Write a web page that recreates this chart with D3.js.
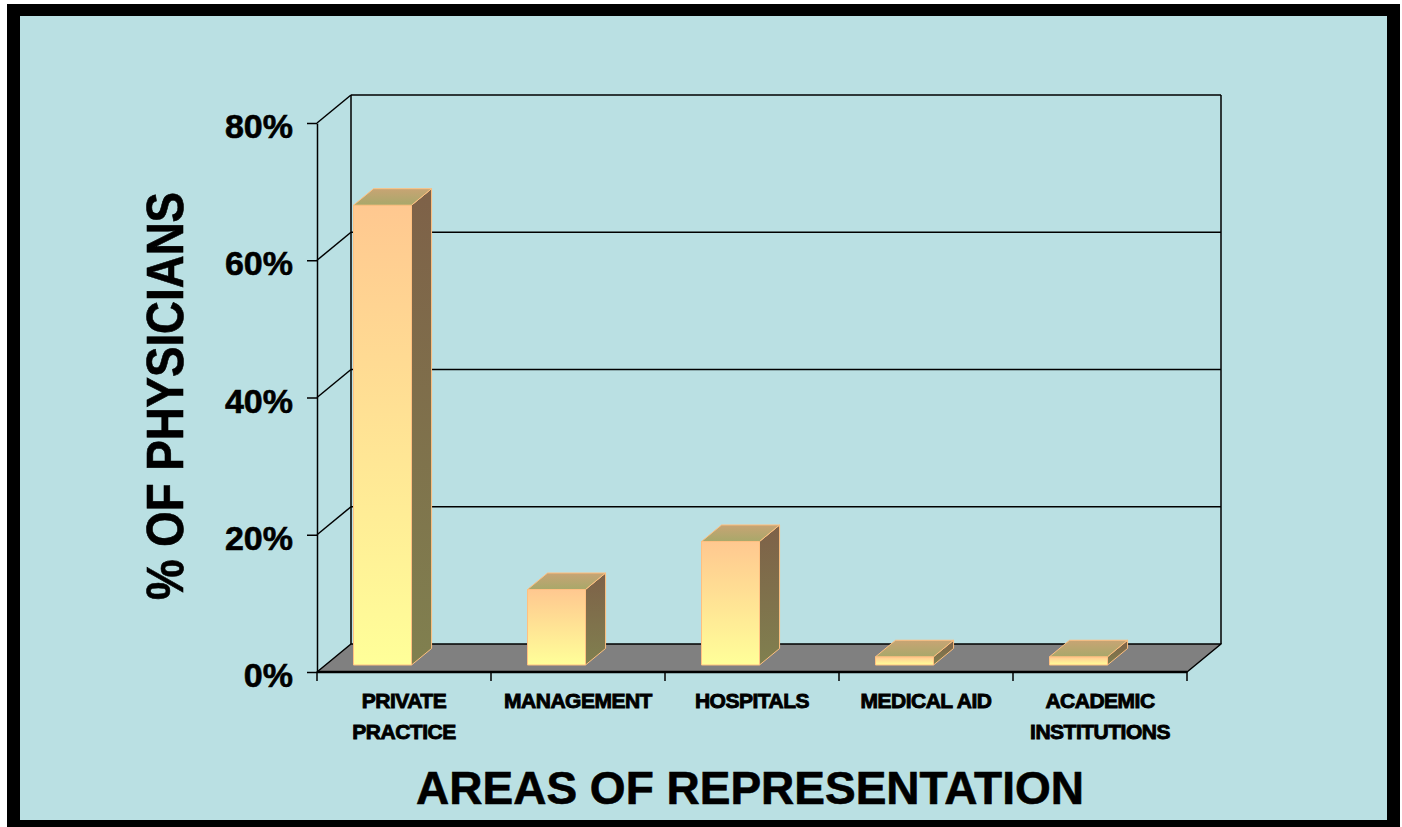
<!DOCTYPE html>
<html><head><meta charset="utf-8">
<script src="https://cdn.jsdelivr.net/npm/d3@7/dist/d3.min.js"></script>
<style>html,body{margin:0;padding:0;background:#fff;} svg{display:block;}</style>
</head><body><svg id="c" width="1402" height="827"></svg>
<script>
// ---- data ----
const categories = ["PRIVATE PRACTICE", "MANAGEMENT", "HOSPITALS", "MEDICAL AID", "ACADEMIC INSTITUTIONS"];
const labelLines = [["PRIVATE", "PRACTICE"], ["MANAGEMENT"], ["HOSPITALS"], ["MEDICAL AID"], ["ACADEMIC", "INSTITUTIONS"]];
const values = [0.67, 0.11, 0.18, 0.012, 0.012];
const yTicks = [0, 0.2, 0.4, 0.6, 0.8];
const yTitle = "% OF PHYSICIANS";
const xTitle = "AREAS OF REPRESENTATION";

// ---- layout ----
const svg = d3.select("#c");
const FONT = "Arial, 'Liberation Sans', Helvetica, sans-serif";
const DX = 34, DY = -28;          // depth vector of the 3D box
const F0 = 0.25, F1 = 0.84;       // bar depth fractions
const x = d3.scaleBand().domain(categories).range([317, 1187]).padding(0);
const y = d3.scaleLinear().domain([0, 0.8]).range([672, 123]);

// frame
svg.append("rect").attr("x", 7).attr("y", 4).attr("width", 1393).attr("height", 823).attr("fill", "#000");
svg.append("rect").attr("x", 20).attr("y", 16).attr("width", 1367).attr("height", 804).attr("fill", "#BAE0E3");

const defs = svg.append("defs");
function grad(id, c1, c2) {
  const g = defs.append("linearGradient").attr("id", id).attr("x1", 0).attr("y1", 0).attr("x2", 0).attr("y2", 1);
  g.append("stop").attr("offset", "0%").attr("stop-color", c1);
  g.append("stop").attr("offset", "100%").attr("stop-color", c2);
}
grad("gFront", "#FFC890", "#FFFF99");
grad("gSide", "#7E6148", "#80804F");
grad("gTop", "#C8A474", "#A8A86A");

const x0 = x.range()[0], x1 = x.range()[1];
const y0 = y(0), yTop = y(0.8);

// floor
svg.append("polygon")
  .attr("points", [[x0, y0], [x1, y0], [x1 + DX, y0 + DY], [x0 + DX, y0 + DY]].map(p => p.join(",")).join(" "))
  .attr("fill", "#808080").attr("stroke", "#000").attr("stroke-width", 1.5).attr("stroke-linejoin", "round");
svg.append("line").attr("x1", x0).attr("x2", x1).attr("y1", y0).attr("y2", y0)
  .attr("stroke", "#000").attr("stroke-width", 2.5);

// back wall & side wall lines
const wall = svg.append("g").attr("stroke", "#000").attr("stroke-width", 1.5).attr("fill", "none");
yTicks.filter(t => t > 0).forEach(t => {
  wall.append("line").attr("x1", x0).attr("y1", y(t)).attr("x2", x0 + DX).attr("y2", y(t) + DY);
  wall.append("line").attr("x1", x0 + DX).attr("y1", y(t) + DY).attr("x2", x1 + DX).attr("y2", y(t) + DY);
});
wall.append("line").attr("x1", x0 + DX).attr("y1", yTop + DY).attr("x2", x0 + DX).attr("y2", y0 + DY);
wall.append("line").attr("x1", x1 + DX).attr("y1", yTop + DY).attr("x2", x1 + DX).attr("y2", y0 + DY);

// y axis
const yAxis = svg.append("g").attr("transform", `translate(${x0},0)`)
  .call(d3.axisLeft(y).tickValues(yTicks).tickSize(10).tickSizeOuter(0).tickPadding(14).tickFormat(d3.format(".0%")));
yAxis.select(".domain").attr("stroke", "#000").attr("stroke-width", 1.5);
yAxis.selectAll(".tick line").attr("stroke", "#000").attr("stroke-width", 1.5);
yAxis.selectAll(".tick text").attr("fill", "#000").attr("font-family", FONT).attr("font-weight", "bold")
  .attr("font-size", 34).attr("dy", "0.43em").attr("stroke", "#000").attr("stroke-width", 0.6);

// category ticks (at boundaries)
const bounds = categories.map(c => x(c)).concat([x1]);
svg.append("g").selectAll("line").data(bounds).join("line")
  .attr("x1", d => d).attr("x2", d => d).attr("y1", y0).attr("y2", y0 + 9)
  .attr("stroke", "#000").attr("stroke-width", 1.5);

// bars
const fdx = DX * F0, fdy = DY * F0;
const sdx = DX * (F1 - F0), sdy = DY * (F1 - F0);
const bw = x.bandwidth() / 3;
const bars = svg.append("g").attr("stroke", "#FFC080").attr("stroke-width", 1).attr("stroke-linejoin", "round");
categories.forEach((c, i) => {
  const v = values[i];
  const bx = x(c) + x.bandwidth() * 0.161 + fdx;
  const yb = y(0) + fdy, yt = y(v) + fdy;
  bars.append("rect").attr("x", bx).attr("y", yt).attr("width", bw).attr("height", yb - yt).attr("fill", "url(#gFront)");
  bars.append("polygon").attr("fill", "url(#gSide)")
    .attr("points", [[bx + bw, yb], [bx + bw + sdx, yb + sdy], [bx + bw + sdx, yt + sdy], [bx + bw, yt]].map(p => p.join(",")).join(" "));
  bars.append("polygon").attr("fill", "url(#gTop)")
    .attr("points", [[bx, yt], [bx + sdx, yt + sdy], [bx + bw + sdx, yt + sdy], [bx + bw, yt]].map(p => p.join(",")).join(" "));
});

// category labels
const lab = svg.append("g").attr("font-family", FONT).attr("font-weight", "bold").attr("font-size", 21)
  .attr("text-anchor", "middle").attr("fill", "#000").attr("stroke", "#000").attr("stroke-width", 0.9);
categories.forEach((c, i) => {
  labelLines[i].forEach((ln, j) => {
    lab.append("text").attr("x", x(c) + x.bandwidth() / 2).attr("y", 708 + j * 31)
      .attr("letter-spacing", -0.5).text(ln);
  });
});

// titles
svg.append("text").attr("transform", "translate(183,396) rotate(-90)")
  .attr("text-anchor", "middle").attr("font-family", FONT).attr("font-weight", "bold")
  .attr("stroke", "#000").attr("stroke-width", 0.6)
  .attr("font-size", 51).attr("textLength", 408).attr("lengthAdjust", "spacingAndGlyphs").text(yTitle);
svg.append("text").attr("x", 750).attr("y", 804)
  .attr("text-anchor", "middle").attr("font-family", FONT).attr("font-weight", "bold")
  .attr("stroke", "#000").attr("stroke-width", 0.6)
  .attr("font-size", 46).text(xTitle);
</script>
</body></html>
